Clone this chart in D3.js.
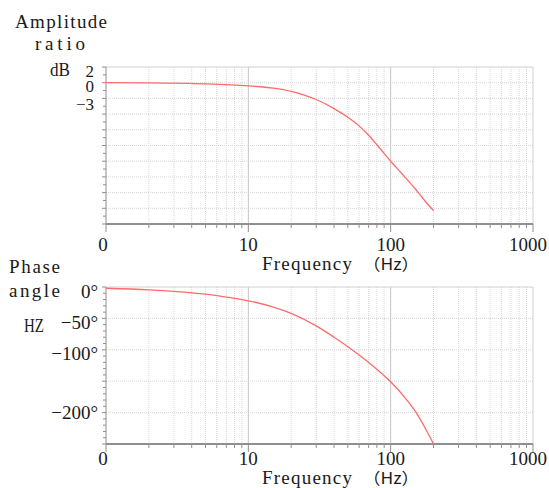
<!DOCTYPE html>
<html>
<head>
<meta charset="utf-8">
<script src="https://cdn.jsdelivr.net/npm/d3@7/dist/d3.min.js"></script>
<style>
  html, body { margin: 0; padding: 0; background: #fff; }
  svg { display: block; }
  text { font-family: "Liberation Serif", "DejaVu Serif", serif; font-size: 19px; fill: #1a1a1a; }
  .cjk { font-family: "Noto Sans CJK SC", sans-serif; font-size: 16px; }
  .amp-lab { font-size: 17px; }
</style>
</head>
<body>
<svg id="chart" width="549" height="488"></svg>
<script>
// Frequency axis (log), shared by both panels
const freqDomain = [1, 1000];
const freqTickValues = [1, 10, 100, 1000];
const freqTickLabels = ["0", "10", "100", "1000"];

// Amplitude panel: evenly spaced grid levels, only the first three labelled
const ampLevelCount = 10;
const ampTickLabels = ["2", "0", "\u22123"];

// Amplitude response, in grid levels below the top line
const ampFreq  = [1, 2, 5, 10, 15, 20, 25, 30, 40, 50, 60, 70, 80, 100, 120, 150, 175, 200];
const ampLevel = [1.0, 1.01, 1.07, 1.2, 1.35, 1.55, 1.8, 2.07, 2.65, 3.2, 3.75, 4.35, 4.95, 6.0, 6.8, 7.8, 8.55, 9.15];

// Phase panel
const phaseDomain = [0, -250];
const phaseTickValues = [0, -50, -100, -200];
const phaseGridValues = [-50, -100, -150, -200];

// Phase response, degrees
const phaseFreq = [1, 2, 3, 5, 7, 10, 15, 20, 30, 40, 50, 70, 100, 130, 150, 175, 200];
const phaseDeg  = [-2, -4.5, -7, -11.5, -16, -22, -32, -42, -62, -80, -95, -120, -151, -180, -199, -225, -250];

const svg = d3.select("#chart");
const W = 549;
const left = 106, right = 533;

const lineColor = "#ff6a6a";
const axisColor = "#8f8f8f";
const gridColor = "#d6d6d6";
const decadeGrid = "#c4c4c4";

const x = d3.scaleLog().domain(freqDomain).range([left, right]);

// minor frequency positions 2..9 in each decade
const minorFreqs = [];
[1, 10, 100].forEach(d => { for (let k = 2; k <= 9; k++) minorFreqs.push(d * k); });

function panel(g, y, top, bottom, hGrid) {
  // vertical grid
  g.selectAll(".vminor").data(minorFreqs).join("line")
    .attr("x1", d => x(d)).attr("x2", d => x(d))
    .attr("y1", top).attr("y2", bottom)
    .attr("stroke", gridColor).attr("stroke-dasharray", "1,1");
  g.selectAll(".vmajor").data([10, 100]).join("line")
    .attr("x1", d => x(d)).attr("x2", d => x(d))
    .attr("y1", top).attr("y2", bottom)
    .attr("stroke", decadeGrid);
  // horizontal grid
  g.selectAll(".hgrid").data(hGrid).join("line")
    .attr("x1", left).attr("x2", right)
    .attr("y1", d => y(d)).attr("y2", d => y(d))
    .attr("stroke", gridColor).attr("stroke-dasharray", "1,1");
  // frame top / right
  g.append("line").attr("x1", left).attr("x2", right).attr("y1", top).attr("y2", top)
    .attr("stroke", "#d0d0d0");
  g.append("line").attr("x1", right).attr("x2", right).attr("y1", top).attr("y2", bottom)
    .attr("stroke", "#d0d0d0");

  // x axis ticks
  g.selectAll(".xminor").data(minorFreqs).join("line")
    .attr("x1", d => x(d)).attr("x2", d => x(d))
    .attr("y1", bottom).attr("y2", bottom + 4)
    .attr("stroke", axisColor);
  g.selectAll(".xmajor").data(freqTickValues).join("line")
    .attr("x1", d => x(d)).attr("x2", d => x(d))
    .attr("y1", bottom).attr("y2", bottom + 8)
    .attr("stroke", axisColor);
  // axis lines
  g.append("line").attr("x1", left).attr("x2", right).attr("y1", bottom).attr("y2", bottom)
    .attr("stroke", axisColor).attr("stroke-width", 2);
  g.append("line").attr("x1", left).attr("x2", left).attr("y1", top).attr("y2", bottom)
    .attr("stroke", axisColor);
}

function freqLabels(g, baseline, labelY) {
  g.selectAll(".xlab").data(freqTickValues).join("text")
    .attr("x", (d, i) => {
      const w = freqTickLabels[i].length * 9.5;
      return Math.min(x(d) - (i === 0 ? 3 : 0), W - w / 2 - 2);
    })
    .attr("y", baseline)
    .attr("text-anchor", "middle")
    .text((d, i) => freqTickLabels[i]);
  const t = g.append("text").attr("y", labelY);
  t.append("tspan").attr("x", 262).attr("textLength", 90).attr("lengthAdjust", "spacing").text("Frequency");
  t.append("tspan").attr("class", "cjk").attr("x", 363).attr("textLength", 56).attr("lengthAdjust", "spacingAndGlyphs").text("（Hz）");
}

// ---------- Amplitude panel ----------
{
  const top = 67, bottom = 224;
  const y = d3.scaleLinear().domain([0, ampLevelCount]).range([top, bottom]);
  const g = svg.append("g");
  panel(g, y, top, bottom, d3.range(1, ampLevelCount));

  // y ticks every half level
  g.selectAll(".yt").data(d3.range(0, ampLevelCount + 0.01, 0.5)).join("line")
    .attr("x1", d => left - (d % 1 === 0 ? 4 : 3)).attr("x2", left)
    .attr("y1", d => y(d)).attr("y2", d => y(d))
    .attr("stroke", axisColor);

  g.selectAll(".ylab").data(ampTickLabels).join("text")
    .attr("class", "amp-lab")
    .attr("x", 94).attr("y", (d, i) => y(i) + 4 + (i === 2 ? 2 : 0))
    .attr("dominant-baseline", "central")
    .attr("text-anchor", "end")
    .text(d => d);

  const line = d3.line().x((d, i) => x(ampFreq[i])).y(d => y(d)).curve(d3.curveMonotoneX);
  g.append("path").datum(ampLevel).attr("d", line)
    .attr("fill", "none").attr("stroke", lineColor).attr("stroke-width", 1.3);

  freqLabels(g, 251, 270);

  svg.append("text").attr("x", 15).attr("y", 28).attr("textLength", 92).attr("lengthAdjust", "spacing").text("Amplitude");
  svg.append("text").attr("x", 35).attr("y", 50).attr("textLength", 50).attr("lengthAdjust", "spacing").text("ratio");
  svg.append("text").attr("x", 50).attr("y", 76).attr("textLength", 20).attr("lengthAdjust", "spacingAndGlyphs").text("dB");
}

// ---------- Phase panel ----------
{
  const top = 287, bottom = 444;
  const y = d3.scaleLinear().domain(phaseDomain).range([top, bottom]);
  const g = svg.append("g");
  panel(g, y, top, bottom, phaseGridValues);

  g.selectAll(".yt").data(d3.range(0, -251, -10)).join("line")
    .attr("x1", d => left - (d % 50 === 0 ? 4 : 3)).attr("x2", left)
    .attr("y1", d => y(d)).attr("y2", d => y(d))
    .attr("stroke", axisColor);

  g.selectAll(".ylab").data(phaseTickValues).join("text")
    .attr("x", 98).attr("y", d => y(d) + (d === -200 ? 0 : 4))
    .attr("dominant-baseline", "central")
    .attr("text-anchor", "end")
    .text(d => (d < 0 ? "\u2212" + Math.abs(d) : d) + "°");

  const line = d3.line().x((d, i) => x(phaseFreq[i])).y(d => y(d)).curve(d3.curveMonotoneX);
  g.append("path").datum(phaseDeg).attr("d", line)
    .attr("fill", "none").attr("stroke", lineColor).attr("stroke-width", 1.3);

  freqLabels(g, 465, 484);

  svg.append("text").attr("x", 9).attr("y", 273).attr("textLength", 51).attr("lengthAdjust", "spacing").text("Phase");
  svg.append("text").attr("x", 9).attr("y", 297).attr("textLength", 51).attr("lengthAdjust", "spacing").text("angle");
  svg.append("text").attr("x", 24).attr("y", 332).attr("textLength", 20).attr("lengthAdjust", "spacingAndGlyphs").text("HZ");
}
</script>
</body>
</html>
